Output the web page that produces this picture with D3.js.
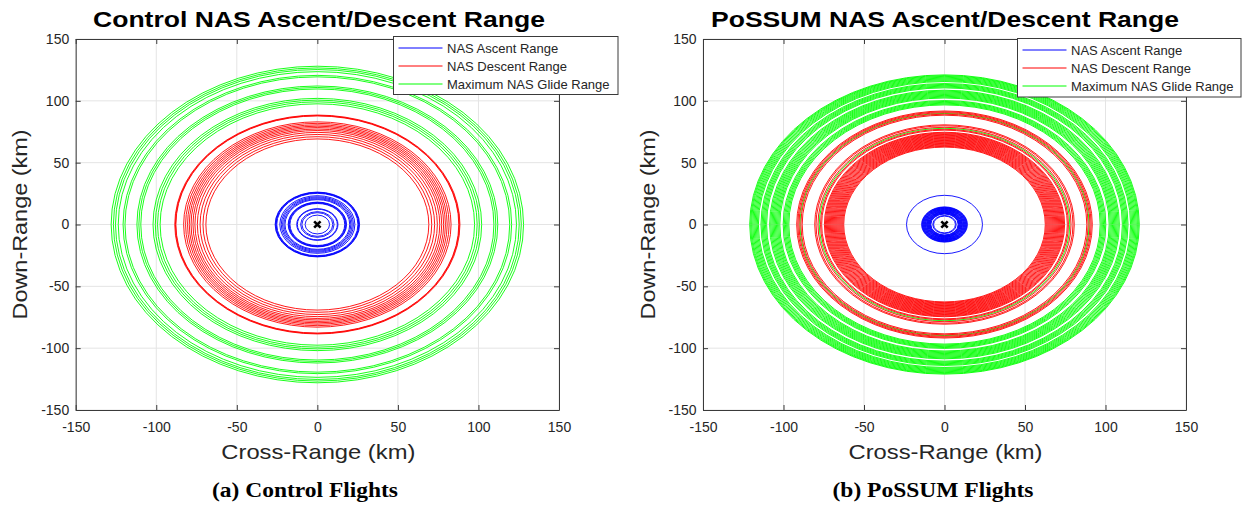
<!DOCTYPE html>
<html>
<head>
<meta charset="utf-8">
<script src="https://cdn.jsdelivr.net/npm/d3@7"></script>
<style>
  body { margin: 0; background: #fff; }
  text { font-family: "Liberation Sans", Arial, sans-serif; }
</style>
</head>
<body>
<svg id="fig" width="1245" height="507"></svg>
<script>
// Tick values shared by both axes of both panels (km)
var axisTicks = [-150, -100, -50, 0, 50, 100, 150];
var legendLabels = ["NAS Ascent Range", "NAS Descent Range", "Maximum NAS Glide Range"];

// Control flights: range radii (km)
var controlAscent = [26.2, 25.9, 25.6, 25.2, 23.3, 22.4, 21.6, 20.8, 20.1,
                     18.1, 17.8, 17.4, 17.0, 12.8, 12.4, 10.4, 9.6, 7.6];
var controlDescent = [88.5, 88.1, 87.8, 83.0, 81.8, 80.6, 79.5, 78.4, 77.2,
                      76.0, 74.5, 72.8, 71.0, 69.2];
var controlGlide = [128.0, 126.6, 125.3, 123.6, 120.6, 119.4, 112.0, 110.8,
                    109.6, 102.0, 100.6, 99.2, 97.6];

// PoSSUM flights: range radii (km)
var possumAscent = [23.6, 14.2, 13.9, 13.6, 13.3, 13.0, 12.7, 12.4, 12.1, 11.8,
                    11.5, 11.2, 10.9, 10.6, 10.3, 10.0, 9.7, 9.4, 9.1, 8.8, 8.5,
                    7.3, 6.8];
var possumDescent = [91.8, 91.1, 90.4, 89.2, 88.4, 80.6, 79.8, 78.6, 77.0, 76.3,
                     74.6, 74.0, 73.4, 72.8, 72.2, 71.6, 71.0, 70.4, 69.8, 69.2,
                     68.6, 68.0, 67.4, 66.8, 66.2, 65.6, 65.0, 64.4, 63.8, 63.2, 62.6];
var possumGlide = [121.0, 120.4, 119.8, 119.1, 118.4, 117.7, 117.0, 116.3, 115.6,
                   114.0, 113.3, 112.6, 111.9, 111.2, 110.5, 108.6, 107.9, 107.2,
                   106.5, 105.8, 105.1, 104.4, 103.7, 103.0, 102.3, 100.2, 99.5,
                   98.8, 98.1, 97.4, 96.7, 89.8, 77.8];

var panels = [
  { title: "Control NAS Ascent/Descent Range", caption: "(a) Control Flights",
    ascent: controlAscent, descent: controlDescent, glide: controlGlide,
    left: 75.7, right: 559, titleX: 319, titleW: 452, captionX: 305, captionW: 186,
    legend: { x: 393.5, y: 36.5, w: 224.5, h: 58 } },
  { title: "PoSSUM NAS Ascent/Descent Range", caption: "(b) PoSSUM Flights",
    ascent: possumAscent, descent: possumDescent, glide: possumGlide,
    left: 703, right: 1186, titleX: 945, titleW: 468, captionX: 933, captionW: 201,
    legend: { x: 1017.5, y: 38.5, w: 223.5, h: 58.5 } }
];

var plotTop = 39, plotBottom = 410;
var axisColor = "#3a3a3a", textColor = "#262626", gridColor = "#e4e4e4";
var seriesColors = { ascent: "#0000ff", descent: "#ff0000", glide: "#00ff00" };

var svg = d3.select("#fig");

panels.forEach(function(p) {
    var x = d3.scaleLinear().domain([-150, 150]).range([p.left, p.right]);
    var y = d3.scaleLinear().domain([-150, 150]).range([plotBottom, plotTop]);
    var g = svg.append("g");

    // grid
    g.append("g").selectAll("line").data(axisTicks).enter().append("line")
        .attr("x1", function(d) { return x(d); }).attr("x2", function(d) { return x(d); })
        .attr("y1", plotTop).attr("y2", plotBottom)
        .attr("stroke", gridColor).attr("stroke-width", 1);
    g.append("g").selectAll("line").data(axisTicks).enter().append("line")
        .attr("y1", function(d) { return y(d); }).attr("y2", function(d) { return y(d); })
        .attr("x1", p.left).attr("x2", p.right)
        .attr("stroke", gridColor).attr("stroke-width", 1);

    // range rings, drawn as ellipses through the scales
    function rings(radii, color) {
        g.append("g").selectAll("ellipse").data(radii).enter().append("ellipse")
            .attr("cx", x(0)).attr("cy", y(0))
            .attr("rx", function(r) { return x(r) - x(0); })
            .attr("ry", function(r) { return y(0) - y(r); })
            .attr("fill", "none")
            .attr("stroke", color)
            .attr("stroke-width", 0.9);
    }
    rings(p.glide, seriesColors.glide);
    rings(p.descent, seriesColors.descent);
    rings(p.ascent, seriesColors.ascent);

    // launch point marker
    var cx = x(0), cy = y(0), m = 3.2;
    g.append("path")
        .attr("d", "M" + (cx - m) + "," + (cy - m) + "L" + (cx + m) + "," + (cy + m) +
                   "M" + (cx - m) + "," + (cy + m) + "L" + (cx + m) + "," + (cy - m))
        .attr("stroke", "#000").attr("stroke-width", 2.6).attr("fill", "none");

    // axes (box on, ticks inward)
    var fmt = function(d) { return String(d); };
    var ax = [
        { a: d3.axisBottom(x).tickPadding(12), t: "translate(0," + plotBottom + ")", labels: true },
        { a: d3.axisTop(x), t: "translate(0," + plotTop + ")", labels: false },
        { a: d3.axisLeft(y).tickPadding(6.5), t: "translate(" + p.left + ",0)", labels: true },
        { a: d3.axisRight(y), t: "translate(" + p.right + ",0)", labels: false }
    ];
    ax.forEach(function(o) {
        o.a.tickValues(axisTicks).tickSizeInner(-5).tickSizeOuter(0)
            .tickFormat(o.labels ? fmt : "");
        var ag = g.append("g").attr("transform", o.t).call(o.a);
        ag.attr("font-family", null).attr("font-size", null);
        ag.select(".domain").attr("stroke", axisColor).attr("stroke-width", 1);
        ag.selectAll(".tick line").attr("stroke", axisColor);
        ag.selectAll(".tick text")
            .attr("fill", textColor)
            .style("font-size", "14px");
    });

    // labels
    g.append("text").attr("x", p.titleX).attr("y", 27)
        .attr("text-anchor", "middle").attr("fill", "#000")
        .attr("textLength", p.titleW).attr("lengthAdjust", "spacingAndGlyphs")
        .style("font-size", "22px").style("font-weight", "bold")
        .text(p.title);
    g.append("text").attr("x", (p.left + p.right) / 2 + 1).attr("y", 459)
        .attr("text-anchor", "middle").attr("fill", textColor)
        .attr("textLength", 194).attr("lengthAdjust", "spacingAndGlyphs")
        .style("font-size", "21px")
        .text("Cross-Range (km)");
    g.append("text")
        .attr("transform", "translate(" + (p.left - 48.5) + "," + ((plotTop + plotBottom) / 2) + ") rotate(-90)")
        .attr("text-anchor", "middle").attr("fill", textColor)
        .attr("textLength", 190).attr("lengthAdjust", "spacingAndGlyphs")
        .style("font-size", "21px")
        .text("Down-Range (km)");
    g.append("text").attr("x", p.captionX).attr("y", 497)
        .attr("text-anchor", "middle").attr("fill", "#000")
        .attr("textLength", p.captionW).attr("lengthAdjust", "spacingAndGlyphs")
        .style("font-family", "'Liberation Serif', 'Times New Roman', serif")
        .style("font-size", "20px").style("font-weight", "bold")
        .text(p.caption);

    // legend
    var L = p.legend;
    var lg = g.append("g").attr("transform", "translate(" + L.x + "," + L.y + ")");
    lg.append("rect").attr("width", L.w).attr("height", L.h)
        .attr("fill", "#fff").attr("stroke", axisColor).attr("stroke-width", 1);
    ["ascent", "descent", "glide"].forEach(function(k, i) {
        var ry = 11.5 + i * 18;
        lg.append("line").attr("x1", 5).attr("x2", 49).attr("y1", ry).attr("y2", ry)
            .attr("stroke", seriesColors[k]).attr("stroke-width", 1);
        lg.append("text").attr("x", 53.5).attr("y", ry).attr("dy", "0.35em")
            .attr("fill", textColor).style("font-size", "13px")
            .text(legendLabels[i]);
    });
});
</script>
</body>
</html>
